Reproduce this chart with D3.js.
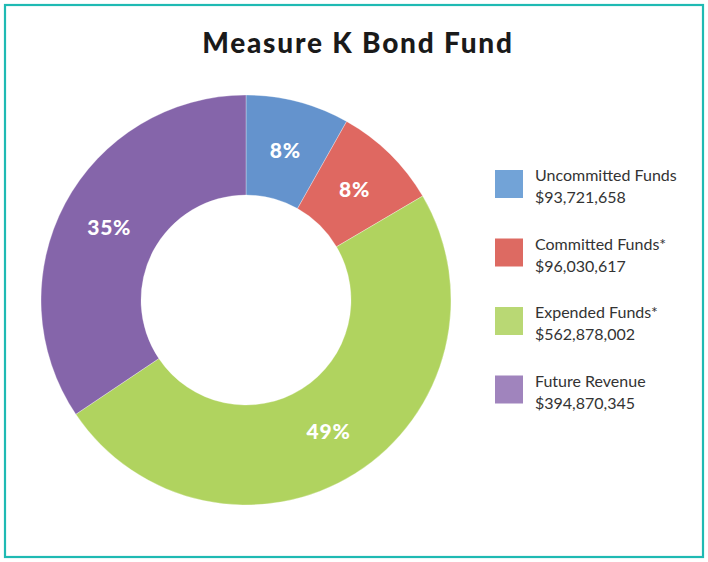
<!DOCTYPE html>
<html>
<head>
<meta charset="utf-8">
<script src="https://cdn.jsdelivr.net/npm/d3@7"></script>
<style>
  html, body { margin: 0; padding: 0; background: #fff; }
  svg { display: block; }
</style>
</head>
<body>
<svg id="chart" width="708" height="562"></svg>
<script>
// data
const categories = ["Uncommitted Funds", "Committed Funds*", "Expended Funds*", "Future Revenue"];
const amounts = [93721658, 96030617, 562878002, 394870345];
const amountLabels = ["$93,721,658", "$96,030,617", "$562,878,002", "$394,870,345"];
const pctLabels = ["8%", "8%", "49%", "35%"];

const sliceColors = ["#6493cd", "#df6861", "#b0d35f", "#8565aa"];
const legendColors = ["#72a3d7", "#dd6a62", "#b9d874", "#a084bd"];

const rows = categories.map((c, i) => ({
  name: c, value: amounts[i], amount: amountLabels[i], pct: pctLabels[i], i
}));

const svg = d3.select("#chart");
const width = +svg.attr("width");
const height = +svg.attr("height");

// frame
svg.append("rect")
  .attr("x", 5).attr("y", 5)
  .attr("width", width - 10).attr("height", height - 10)
  .attr("fill", "none")
  .attr("stroke", "#1fbab3")
  .attr("stroke-width", 2.2);

// title
svg.append("text")
  .attr("x", 358)
  .attr("y", 53)
  .attr("text-anchor", "middle")
  .attr("font-family", "Lato, 'Noto Sans', sans-serif")
  .attr("font-weight", 900)
  .attr("font-size", "28px")
  .attr("letter-spacing", "1.8px")
  .attr("fill", "#1a1a1a")
  .text("Measure K Bond Fund");

// donut
const cx = 246, cy = 300;
const outerR = 205, innerR = 105;

const pie = d3.pie().value(d => d.value).sort(null);
const arc = d3.arc().innerRadius(innerR).outerRadius(outerR);
const labelArc = d3.arc().innerRadius(155).outerRadius(155);

const g = svg.append("g").attr("transform", `translate(${cx},${cy})`);
const arcs = pie(rows);

g.selectAll("path")
  .data(arcs)
  .enter()
  .append("path")
  .attr("d", arc)
  .attr("fill", d => sliceColors[d.data.i])
  .attr("stroke", "#ffffff")
  .attr("stroke-opacity", 0.5)
  .attr("stroke-width", 0.6);

g.selectAll("text.pct")
  .data(arcs)
  .enter()
  .append("text")
  .attr("class", "pct")
  .attr("transform", d => `translate(${labelArc.centroid(d)})`)
  .attr("text-anchor", "middle")
  .attr("dy", "0.36em")
  .attr("font-family", "Lato, 'Noto Sans', sans-serif")
  .attr("font-weight", 900)
  .attr("font-size", "21px")
  .attr("letter-spacing", "0.8px")
  .attr("fill", "#ffffff")
  .text(d => d.data.pct);

// legend
const legend = svg.append("g").attr("transform", "translate(495, 170)");

const item = legend.selectAll("g")
  .data(rows)
  .enter()
  .append("g")
  .attr("transform", (d, i) => `translate(0, ${i * 68.5})`);

item.append("rect")
  .attr("width", 28).attr("height", 28)
  .attr("fill", d => legendColors[d.i]);

item.append("text")
  .attr("x", 40).attr("y", 11)
  .attr("font-family", "Lato, 'Noto Sans', sans-serif")
  .attr("font-size", "16px")
  .attr("fill", "#333")
  .text(d => d.name);

item.append("text")
  .attr("x", 40).attr("y", 33)
  .attr("font-family", "Lato, 'Noto Sans', sans-serif")
  .attr("font-size", "16px")
  .attr("fill", "#333")
  .text(d => d.amount);
</script>
</body>
</html>
